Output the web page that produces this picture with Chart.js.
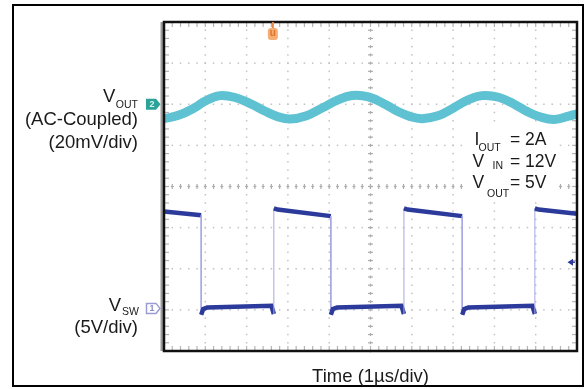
<!DOCTYPE html>
<html>
<head>
<meta charset="utf-8">
<script src="https://cdn.jsdelivr.net/npm/chart.js@4.4.0/dist/chart.umd.min.js"></script>
<style>
  body { margin: 0; background: #fff; }
  canvas { display: block; }
</style>
</head>
<body>
<canvas id="myChart" width="585" height="389"></canvas>
<script>
// Scope capture: time in us (1us/div), Vout ripple in mV (AC coupled, 20mV/div), Vsw in V (5V/div)
const voutTime = [0, 0.35, 0.75, 1.0, 1.35, 1.7, 2.1, 2.45, 2.75, 3.05, 3.45, 3.85, 4.2, 4.55, 4.95, 5.35, 5.65, 5.95, 6.25, 6.65, 7.0, 7.35, 7.7, 8.1, 8.5, 8.8, 9.1, 9.45, 9.8, 10];
const voutMv = [-7.0, -5.4, -1.6, 1.6, 4.2, 3.4, 0.2, -3.4, -6.0, -7.2, -5.6, -1.6, 2.0, 4.3, 3.6, 0.0, -3.4, -5.9, -7.0, -5.5, -1.9, 2.0, 4.2, 3.4, -0.2, -3.6, -6.1, -7.4, -5.8, -4.6];

const swTime = [0, 0.9, 0.9, 0.95, 1.05, 2.6, 2.66, 2.66, 2.75, 4.04, 4.04, 4.09, 4.19, 5.75, 5.81, 5.81, 5.9, 7.22, 7.22, 7.27, 7.37, 8.92, 8.98, 8.98, 9.07, 10];
const swVolts = [11.95, 11.5, -0.6, 0.1, 0.3, 0.5, -0.5, 12.35, 12.2, 11.4, -0.6, 0.1, 0.3, 0.5, -0.5, 12.35, 12.2, 11.4, -0.6, 0.1, 0.3, 0.5, -0.5, 12.35, 12.2, 11.7];

const triggerTime = 2.66;   // trigger on Vsw rising edge
const triggerLevel = 5.8;   // volts on Vsw
const conditions = [["I", "OUT", "= 2A"], ["V", "IN", "= 12V"], ["V", "OUT", "= 5V"]];

const FONT = '"Liberation Sans", Arial, sans-serif';

// dotted scope graticule, drawn under the traces
const scopeGrid = {
  id: 'scopeGrid',
  beforeDatasetsDraw(chart) {
    const { ctx, chartArea: a, scales: { x, ySw } } = chart;
    ctx.save();
    ctx.fillStyle = '#c2c2c2';
    // vertical division lines
    for (let i = 1; i < 10; i++) {
      if (i === 5) continue;
      const px = x.getPixelForValue(i);
      for (let v = -5; v <= 35; v++) {
        ctx.fillRect(px - 0.75, ySw.getPixelForValue(v) - 0.75, 1.5, 1.5);
      }
    }
    // horizontal division lines
    for (let v = 0; v <= 30; v += 5) {
      if (v === 15) continue;
      const py = ySw.getPixelForValue(v);
      for (let t = 0; t <= 10.001; t += 0.2) {
        ctx.fillRect(x.getPixelForValue(t) - 0.75, py - 0.75, 1.5, 1.5);
      }
    }
    // centre cross with sub-division ticks
    ctx.fillStyle = '#adadad';
    const cx = x.getPixelForValue(5);
    const cy = ySw.getPixelForValue(15);
    for (let v = -5; v <= 35; v++) {
      const py = ySw.getPixelForValue(v);
      ctx.fillRect(cx - 2.5, py - 0.6, 5, 1.2);
      ctx.fillRect(cx - 0.6, py - 1.5, 1.2, 3);
    }
    for (let t = 0; t <= 10.001; t += 0.2) {
      const px = x.getPixelForValue(t);
      ctx.fillRect(px - 0.6, cy - 2.5, 1.2, 5);
      ctx.fillRect(px - 1.5, cy - 0.6, 3, 1.2);
    }
    // ticks along the frame edges
    ctx.fillStyle = '#b5b5b5';
    for (let t = 0; t <= 10.001; t += 0.2) {
      const px = x.getPixelForValue(t);
      ctx.fillRect(px - 0.6, a.top, 1.2, 5);
      ctx.fillRect(px - 0.6, a.bottom - 5, 1.2, 5);
    }
    for (let v = -5; v <= 35; v++) {
      const py = ySw.getPixelForValue(v);
      ctx.fillRect(a.left, py - 0.6, 5, 1.2);
      ctx.fillRect(a.right - 5, py - 0.6, 5, 1.2);
    }
    ctx.restore();
  }
};

// frames, channel markers and all labels
const scopeOverlay = {
  id: 'scopeOverlay',
  afterDatasetsDraw(chart) {
    const { ctx, chartArea: a, scales: { x, yOut, ySw } } = chart;
    ctx.save();

    // outer figure frame
    ctx.strokeStyle = '#000';
    ctx.lineWidth = 2;
    ctx.strokeRect(13, 5, 570, 381);

    // screen frame
    ctx.fillStyle = '#9c9c9c';
    ctx.fillRect(a.left - 3.5, a.top, 2.5, a.height);
    ctx.strokeStyle = '#111';
    ctx.lineWidth = 2.5;
    ctx.strokeRect(a.left, a.top, a.width, a.height);

    // channel 2 marker (Vout ground)
    let my = yOut.getPixelForValue(0);
    ctx.beginPath();
    ctx.moveTo(146, my - 5.5);
    ctx.lineTo(156, my - 5.5);
    ctx.lineTo(160.5, my);
    ctx.lineTo(156, my + 5.5);
    ctx.lineTo(146, my + 5.5);
    ctx.closePath();
    ctx.fillStyle = '#2ba398';
    ctx.fill();
    ctx.fillStyle = '#d8f4f0';
    ctx.font = 'bold 9px ' + FONT;
    ctx.textAlign = 'center';
    ctx.textBaseline = 'middle';
    ctx.fillText('2', 152, my + 0.5);

    // channel 1 marker (Vsw ground)
    my = ySw.getPixelForValue(0) - 1.5;
    ctx.beginPath();
    ctx.moveTo(146.5, my - 5);
    ctx.lineTo(156, my - 5);
    ctx.lineTo(160, my);
    ctx.lineTo(156, my + 5);
    ctx.lineTo(146.5, my + 5);
    ctx.closePath();
    ctx.fillStyle = '#fff';
    ctx.fill();
    ctx.strokeStyle = '#9c9cd4';
    ctx.lineWidth = 1.5;
    ctx.stroke();
    ctx.fillStyle = '#8c8cc8';
    ctx.fillText('1', 152, my + 0.5);

    // trigger position marker
    const tx = x.getPixelForValue(triggerTime) - 1;
    ctx.fillStyle = '#e88a45';
    ctx.fillRect(tx - 1, a.top, 2, 6);
    ctx.fillStyle = '#f4ad74';
    ctx.beginPath();
    ctx.roundRect(tx - 5, a.top + 6, 10, 12, 3);
    ctx.fill();
    ctx.fillStyle = '#e07428';
    ctx.font = 'bold 10px ' + FONT;
    ctx.fillText('u', tx, a.top + 11.5);

    // trigger level arrow
    const ly = ySw.getPixelForValue(triggerLevel);
    ctx.fillStyle = '#2c3b9b';
    ctx.beginPath();
    ctx.moveTo(567.5, ly);
    ctx.lineTo(573, ly - 3.5);
    ctx.lineTo(573, ly + 3.5);
    ctx.closePath();
    ctx.fill();
    ctx.fillRect(572, ly - 0.75, 3, 1.5);

    // left channel labels
    ctx.fillStyle = '#1a1a1a';
    ctx.textBaseline = 'alphabetic';
    const right = 138;
    ctx.font = '10.5px ' + FONT;
    let w = ctx.measureText('OUT').width;
    ctx.textAlign = 'left';
    ctx.fillText('OUT', right - w, 107.5);
    ctx.font = '18.5px ' + FONT;
    ctx.textAlign = 'right';
    ctx.fillText('V', right - w - 0.5, 101.5);
    ctx.fillText('(AC-Coupled)', right, 125);
    ctx.fillText('(20mV/div)', right, 148);

    ctx.font = '10.5px ' + FONT;
    w = ctx.measureText('SW').width;
    ctx.textAlign = 'left';
    ctx.fillText('SW', right + 1 - w, 315);
    ctx.font = '18.5px ' + FONT;
    ctx.textAlign = 'right';
    ctx.fillText('V', right - w, 311);
    ctx.fillText('(5V/div)', right, 333);

    // operating conditions box
    ctx.fillStyle = '#fff';
    ctx.fillRect(468, 128, 89, 72);
    ctx.fillStyle = '#1a1a1a';
    ctx.textAlign = 'left';
    const rows = [
      { y: 145, subX: 478.5, subY: 151 },
      { y: 166.5, subX: 492.5, subY: 168.5 },
      { y: 188, subX: 487, subY: 197 }
    ];
    conditions.forEach((c, i) => {
      const r = rows[i];
      ctx.font = '17.5px ' + FONT;
      ctx.fillText(c[0], c[0] === 'I' ? 474.5 : 472.5, r.y);
      ctx.fillText(c[2], 510, r.y);
      ctx.font = '10.5px ' + FONT;
      ctx.fillText(c[1], r.subX, r.subY);
    });

    // time axis label
    ctx.font = '18.5px ' + FONT;
    ctx.textAlign = 'center';
    ctx.fillText('Time (1\u00b5s/div)', (a.left + a.right) / 2, 382);

    ctx.restore();
  }
};

const ctx = document.getElementById('myChart');

new Chart(ctx, {
  type: 'line',
  data: {
    datasets: [
      {
        label: 'VOUT',
        data: voutTime.map((t, i) => ({ x: t, y: voutMv[i] })),
        yAxisID: 'yOut',
        borderColor: '#5ec2d2',
        borderWidth: 9,
        borderCapStyle: 'round',
        tension: 0.4,
        pointRadius: 0
      },
      {
        label: 'VSW',
        data: swTime.map((t, i) => ({ x: t, y: swVolts[i] })),
        yAxisID: 'ySw',
        borderColor: '#2c3b9b',
        borderWidth: 4.5,
        tension: 0,
        pointRadius: 0,
        segment: {
          // fast edges show up faint on the scope
          borderColor: c => c.p0.parsed.x === c.p1.parsed.x ? '#a6a6e4' : undefined,
          borderWidth: c => c.p0.parsed.x === c.p1.parsed.x ? 1 : undefined
        }
      }
    ]
  },
  options: {
    responsive: false,
    animation: false,
    devicePixelRatio: 1,
    events: [],
    layout: {
      padding: { left: 164, top: 22, right: 8, bottom: 38 }
    },
    plugins: {
      legend: { display: false },
      tooltip: { enabled: false }
    },
    scales: {
      x: { type: 'linear', min: 0, max: 10, display: false },
      yOut: { type: 'linear', min: -120, max: 40, display: false },
      ySw: { type: 'linear', min: -5, max: 35, display: false }
    }
  },
  plugins: [scopeGrid, scopeOverlay]
});
</script>
</body>
</html>
